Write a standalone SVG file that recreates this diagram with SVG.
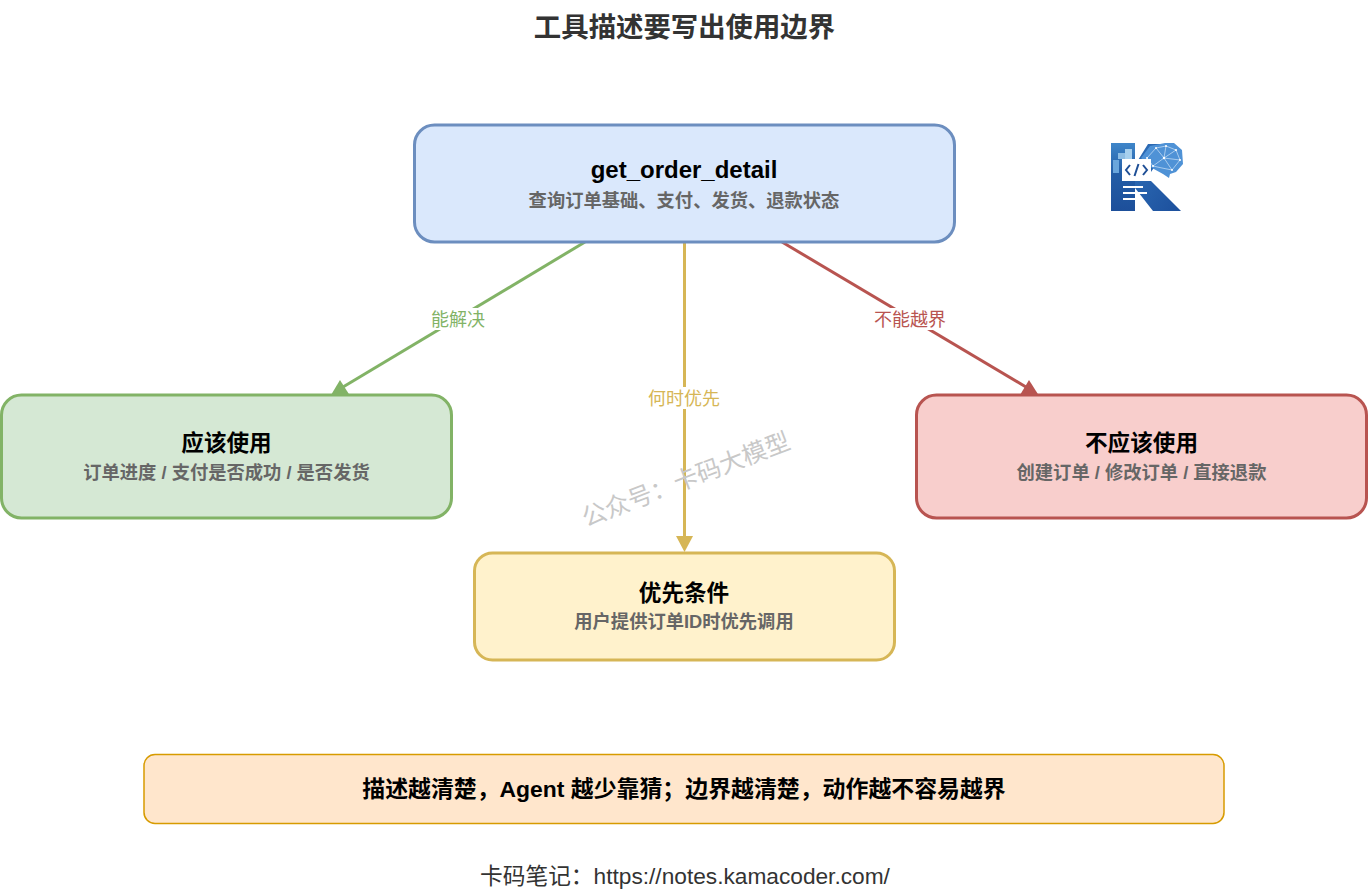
<svg xmlns="http://www.w3.org/2000/svg" width="1370" height="892" viewBox="0 0 1370 892">
<style>
text{font-family:"Liberation Sans","Noto Sans CJK SC",sans-serif;text-anchor:middle}
.t{font-size:22.600px;font-weight:700;fill:#000}
.s{font-size:18.300px;font-weight:700;fill:#666}
.l{font-size:18px}
.box{stroke-width:3}
.c{fill:none;stroke-width:3}
</style>
<rect width="1370" height="892" fill="#fff"/>
<text id="title" x="684.500" y="36.500" style="font-size:27.400px;font-weight:700;fill:#333">工具描述要写出使用边界</text>
<g id="connectors">
<path class="c" stroke="#82b366" d="M585 242L343 387"/>
<path fill="#82b366" d="M340 380L349.500 395H331Z"/>
<path class="c" stroke="#d6b656" d="M684.500 242V538"/>
<path fill="#d6b656" d="M676 536H693L684.500 552Z"/>
<path class="c" stroke="#b85450" d="M782 242L1026 387"/>
<path fill="#b85450" d="M1029 380L1038.500 395H1020Z"/>
<rect x="429" y="308" width="58" height="22" fill="#fff"/>
<text class="l" x="458" y="326" fill="#82b366">能解决</text>
<rect x="645" y="387" width="78" height="22" fill="#fff"/>
<text class="l" x="684" y="405" fill="#d6b656">何时优先</text>
<rect x="871" y="308" width="78" height="22" fill="#fff"/>
<text class="l" x="910" y="326" fill="#b85450">不能越界</text>
</g>
<g id="n-tool">
<rect class="box" x="414.500" y="125" width="540" height="117" rx="20" fill="#dae8fc" stroke="#6c8ebf"/>
<text class="t" x="684" y="178" style="font-size:24px">get_order_detail</text>
<text class="s" x="684" y="206.500">查询订单基础、支付、发货、退款状态</text>
</g>
<g id="n-should">
<rect class="box" x="1.500" y="395" width="450" height="123" rx="20" fill="#d5e8d4" stroke="#82b366"/>
<text class="t" x="226.500" y="451">应该使用</text>
<text class="s" x="226.500" y="478.500">订单进度 / 支付是否成功 / 是否发货</text>
</g>
<g id="n-shouldnt">
<rect class="box" x="916.500" y="395" width="450" height="123" rx="20" fill="#f8cecc" stroke="#b85450"/>
<text class="t" x="1141.500" y="451">不应该使用</text>
<text class="s" x="1141.500" y="478.500">创建订单 / 修改订单 / 直接退款</text>
</g>
<g id="n-priority">
<rect class="box" x="474.500" y="553" width="420" height="107" rx="18" fill="#fff2cc" stroke="#d6b656"/>
<text class="t" x="684" y="601">优先条件</text>
<text class="s" x="684" y="628">用户提供订单ID时优先调用</text>
</g>
<g id="n-summary">
<rect x="144" y="754.500" width="1080" height="69" rx="11" fill="#ffe6cc" stroke="#d79b00" stroke-width="1.500"/>
<text x="684" y="797" style="font-size:22.900px;font-weight:700;fill:#000">描述越清楚，Agent 越少靠猜；边界越清楚，动作越不容易越界</text>
</g>
<text id="watermark" x="686" y="488" transform="rotate(-21 686 480)" style="font-size:24.500px;fill:#c8c8c8">公众号：卡码大模型</text>
<text id="footer" x="685" y="884" style="font-size:22.700px;fill:#333">卡码笔记：https://notes.kamacoder.com/</text>
<g id="logo">
<defs><linearGradient id="k" x1="0" y1="0" x2="1" y2="1"><stop offset="0" stop-color="#2f6fb8"/><stop offset="1" stop-color="#1c4f9c"/></linearGradient>
<linearGradient id="kb" x1="0" y1="0" x2="0" y2="1"><stop offset="0" stop-color="#3f86c9"/><stop offset=".45" stop-color="#235da6"/><stop offset="1" stop-color="#1d4f9a"/></linearGradient></defs>
<path fill="url(#kb)" d="M1111 143H1135V211H1111Z"/>
<path fill="url(#k)" d="M1135 165L1148 144H1170L1151 172V181L1181 211H1153L1135 188Z"/>
<path fill="#4f92d6" d="M1141 158L1150 146L1165 143H1174L1182 150L1183 164L1176 172L1170 174L1169 178L1163 174L1152 168Z"/>
<g stroke="#cfe4f8" stroke-width=".7" fill="none"><path d="M1147 158L1156 148L1166 146L1176 150L1180 160L1172 170L1162 168L1153 166L1147 158M1156 148L1164 158L1172 170M1166 146L1164 158L1153 166M1176 150L1164 158L1180 160"/></g>
<g fill="#fff"><circle cx="1156" cy="148" r="1"/><circle cx="1166" cy="146" r="1"/><circle cx="1176" cy="150" r="1"/><circle cx="1164" cy="158" r="1.200"/><circle cx="1180" cy="160" r="1"/><circle cx="1172" cy="170" r="1"/><circle cx="1153" cy="166" r="1"/><circle cx="1147" cy="158" r="1"/></g>
<rect x="1113" y="160" width="6" height="13" fill="#6aa6dc"/><rect x="1118" y="153" width="7" height="6" fill="#8dbde4"/><rect x="1125" y="149" width="7" height="10" fill="#a7d0ee"/>
<rect x="1122" y="159" width="29" height="22" fill="#fff"/>
<path fill="none" stroke="#1f4f96" stroke-width="2" d="M1130 165L1126 170L1130 175M1143 165L1147 170L1143 175M1138.500 164L1134.500 176"/>
<path fill="none" stroke="#fff" stroke-width="2" d="M1123 187H1143M1123 193H1147M1123 199H1137"/>
</g>
</svg>
